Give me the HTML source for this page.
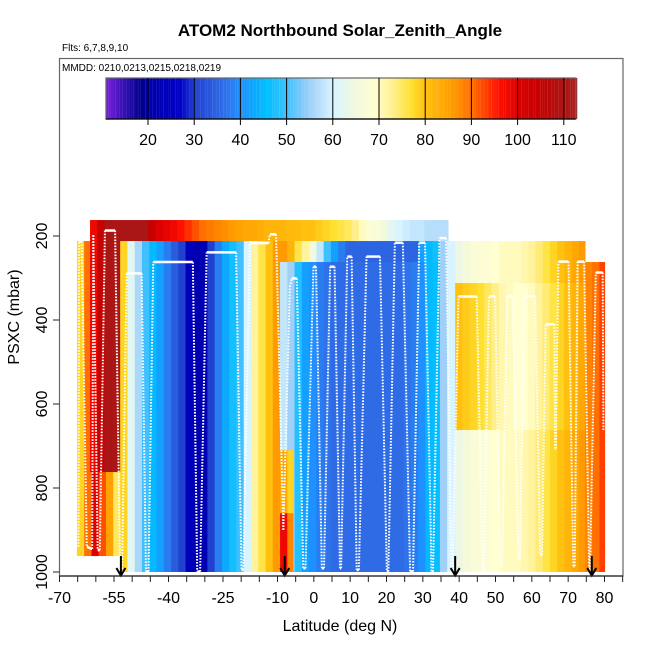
<!DOCTYPE html>
<html><head><meta charset="utf-8"><style>
body{margin:0;background:#fff;}
svg{display:block;font-family:"Liberation Sans",Arial,sans-serif;}
</style></head><body>
<svg id="chart" width="650" height="650" viewBox="0 0 650 650" xmlns="http://www.w3.org/2000/svg">
<rect x="0" y="0" width="650" height="650" fill="#fff"/>
<text x="340" y="36" text-anchor="middle" font-size="17" font-weight="bold">ATOM2 Northbound Solar_Zenith_Angle</text>
<text x="62" y="51" font-size="10">Flts: 6,7,8,9,10</text>
<g id="plot"></g>
<g id="lines"></g>
<g id="arrows"></g>
<rect x="59.5" y="58.5" width="563.5" height="517.5" fill="none" stroke="#666" stroke-width="1.2"/>
<text x="62" y="71" font-size="10">MMDD: 0210,0213,0215,0218,0219</text>
<g id="cbar"></g>
<g id="axes"></g>
<text x="340" y="631" text-anchor="middle" font-size="16">Latitude (deg N)</text>
<text x="0" y="0" transform="translate(19,317) rotate(-90)" text-anchor="middle" font-size="16">PSXC (mbar)</text>
</svg>
<script>
// ---- data ----
const xTickLabels = [-70,-55,-40,-25,-10,0,10,20,30,40,50,60,70,80];
const yTickLabels = [200,400,600,800,1000];
const cbarTicks = [20,30,40,50,60,70,80,90,100,110];
const arrowLats = [-53.1,-8.0,38.9,76.5];

// curtains: [latStart, latEnd, pTop, pBot], values per 2-degree column
const f2Box=[-65.2,-53.3,212,962];  const f2Vals=[78,90,100,92,85,75];
const f1Box=[-61.6,36.9,162,762];
const f1Vals=[98,105,110,110,110,110,110,110,104,100,99,98,96,94,92,90,89,88,87,86,85,84,84,83,82,82,82,81,81,80,80,79,78,77,76,75,73,70,68,67,65,62,60,59,58,58,57,57,57,57];
const f3Box=[-53.3,37,212,1000];
const f3Vals=[78,62,56,50,45,42,38,34,30,24,21,22,30,38,43,47,50,60,72,76,80,86,86,82,76,72,65,58,50,42,38,35,35,35,35,35,35,35,35,35,35,42,45,47,55,60];
const f5Box=[-9.3,37,262,1000];
const f5Vals=[58,55,48,42,40,38,37,36,36,36,36,36,36,36,36,36,36,37,38,40,45,46,55,60];
const f6Box=[-9.3,-5.8,710,860];   const f6Vals=[84,78];
const f7Box=[-9.3,-5.8,860,1000];  const f7Vals=[98,88];
const f8Box=[37,74.6,212,1000];
const f8Vals=[60,64,66,67,68,68,69,70,70,70,71,72,74,76,78,80,82,84,86];
const f9Box=[38.9,74.6,312,662];
const f9Vals=[80,79,78,77,75,73,71,70,69,69,70,72,74,76,78,80,82,84];
const f11Box=[74.6,80,262,1000];  const f11Vals=[88,90,93];

// aircraft profile (lat, pressure)
const profLat=[-64.8,-64.6,-63.9,-62.5,-61.0,-60.7,-59.5,-58.9,-57.5,-54.7,-53.3,-52.8,-51.5,-47.4,-46.2,-45.5,-44.2,-33.3,-32.1,-31.3,-29.5,-21.4,-19.9,-19.4,-17.6,-12.5,-12.1,-10.4,-8.4,-6.6,-6.1,-4.7,-2.9,-2.3,-0.1,0.6,2.2,2.8,4.5,5.7,7.2,7.5,9.2,10.4,11.8,12.4,14.5,18.2,20.1,20.5,22.3,24.5,26.5,27.3,29.0,30.6,32.4,32.8,34.6,36.4,37.9,38.2,39.8,44.8,46.5,46.8,48.2,49.9,51.3,51.8,53.2,54.7,56.3,56.8,57.8,60.9,62.3,62.8,63.8,66.2,66.4,66.6,67.3,70.1,71.4,71.8,72.6,74.4,75.8,76.0,77.6,79.5,79.7];
const profP=[940,213,213,940,945,198,948,948,187,187,1003,1000,289,289,999,999,262,262,999,999,239,239,995,995,217,217,196,196,900,321,301,301,991,991,273,273,991,991,273,273,991,991,249,249,995,995,249,249,999,999,216,216,999,999,216,216,999,999,205,205,1003,1003,344,344,999,999,344,344,986,986,344,344,967,967,344,344,959,959,410,410,706,706,261,261,986,986,261,261,1003,1003,287,287,662];

// ---- scales ----
const X=lat=>59.5+(lat+70)*545/150;
const Y=p=>236+(p-200)*0.42;
const CB=v=>148+(v-20)*4.62;
const stops=[[10.9,[123,31,224]],[15,[48,16,176]],[18.7,[0,0,139]],[20,[0,0,170]],[27,[0,0,200]],[30,[32,64,208]],[36.7,[48,112,232]],[40,[30,144,255]],[45.7,[0,191,255]],[50,[64,192,255]],[55,[160,208,248]],[60,[216,244,255]],[64.6,[240,248,224]],[69,[255,255,208]],[72.8,[255,240,144]],[77,[255,224,48]],[80,[255,192,16]],[85.4,[255,160,0]],[90,[255,112,0]],[96,[255,16,0]],[100,[221,0,0]],[104,[200,0,0]],[110,[170,21,21]],[113,[176,32,32]]];
function col(v){
  if(v<=stops[0][0])return 'rgb('+stops[0][1]+')';
  for(let i=1;i<stops.length;i++){
    if(v<=stops[i][0]){const a=stops[i-1],b=stops[i],t=(v-a[0])/(b[0]-a[0]);
      return 'rgb('+a[1].map((c,k)=>Math.round(c+(b[1][k]-c)*t)).join(',')+')';}
  }
  return 'rgb('+stops[stops.length-1][1]+')';
}
const NS='http://www.w3.org/2000/svg';
function mk(tag,attrs,parent){const e=document.createElementNS(NS,tag);for(const k in attrs)e.setAttribute(k,attrs[k]);parent.appendChild(e);return e;}

// ---- curtains ----
const plot=document.getElementById('plot');
function curtain(box,vals,name){
  const g=mk('g',{},plot);
  
  
  vals.forEach((v,i)=>{
    const l0=box[0]+2*i, l1=Math.min(box[1],l0+2);
    if(l1<=l0)return;
    const r=mk('rect',{x:X(l0),y:Y(box[2]),width:X(l1)-X(l0)+0.6,height:Y(box[3])-Y(box[2]),fill:col(v)},g);
    
    
  });
}
curtain(f2Box,f2Vals,'flight-curtain-2');
curtain(f1Box,f1Vals,'flight-curtain-1');
curtain(f3Box,f3Vals,'flight-curtain-3');
curtain(f5Box,f5Vals,'flight-curtain-5');
curtain(f6Box,f6Vals,'flight-curtain-6');
curtain(f7Box,f7Vals,'flight-curtain-7');
curtain(f8Box,f8Vals,'flight-curtain-8');
curtain(f9Box,f9Vals,'flight-curtain-9');
curtain(f11Box,f11Vals,'flight-curtain-11');

// ---- profiles ----
const lines=document.getElementById('lines');
for(let i=1;i<profLat.length;i++){
  const x1=X(profLat[i-1]),y1=Y(profP[i-1]),x2=X(profLat[i]),y2=Y(profP[i]);
  const steep=Math.abs(y2-y1)>Math.abs(x2-x1)*2;
  const s=mk('line',{x1:x1,y1:y1,x2:x2,y2:y2,stroke:'#fff','stroke-width':steep?2:2.5,'stroke-dasharray':steep?'1.6,1.4':'none'},lines);
  
  
}

// ---- arrows ----
const arrows=document.getElementById('arrows');
arrowLats.forEach(l=>{
  const x=X(l);
  const a=mk('path',{d:`M${x},556 L${x},575 M${x-4.5},568 L${x},575.5 L${x+4.5},568`,stroke:'#000','stroke-width':2,fill:'none'},arrows);
  
  
});

// ---- colorbar ----
const cb=document.getElementById('cbar');
for(let v=10.9;v<112.6;v+=0.5){
  const r=mk('rect',{x:CB(v),y:78,width:2.4,height:41,fill:col(v+0.25)},cb);
  
  
}
const cbf=mk('rect',{x:CB(10.9),y:78,width:CB(112.6)-CB(10.9),height:41,fill:'none',stroke:'#666','stroke-width':1.2},cb);


mk('line',{x1:CB(10.9),x2:CB(112.6),y1:119,y2:119,stroke:'#000','stroke-width':1.2},cb);
cbarTicks.forEach(v=>{
  mk('line',{x1:CB(v),x2:CB(v),y1:78,y2:125,stroke:'#000','stroke-width':1},cb);
  const t=mk('text',{x:CB(v),y:145,'text-anchor':'middle','font-size':16},cb);
  t.textContent=v;
  
  
});

// ---- axes ----
const ax=document.getElementById('axes');
mk('line',{x1:59.5,x2:623,y1:576,y2:576,stroke:'#222','stroke-width':1.2},ax);
for(let l=-70;l<=85;l+=5){mk('line',{x1:X(l),x2:X(l),y1:576,y2:582,stroke:'#222','stroke-width':1},ax);}
xTickLabels.forEach(l=>{
  const t=mk('text',{x:X(l),y:603,'text-anchor':'middle','font-size':16},ax);
  t.textContent=l;
  
  
});
yTickLabels.forEach(p=>{
  mk('line',{x1:53,x2:59.5,y1:Y(p),y2:Y(p),stroke:'#222','stroke-width':1},ax);
  const t=mk('text',{x:0,y:0,transform:`translate(47,${Y(p)}) rotate(-90)`,'text-anchor':'middle','font-size':16},ax);
  t.textContent=p;
  
  
});
</script>
</body></html>
